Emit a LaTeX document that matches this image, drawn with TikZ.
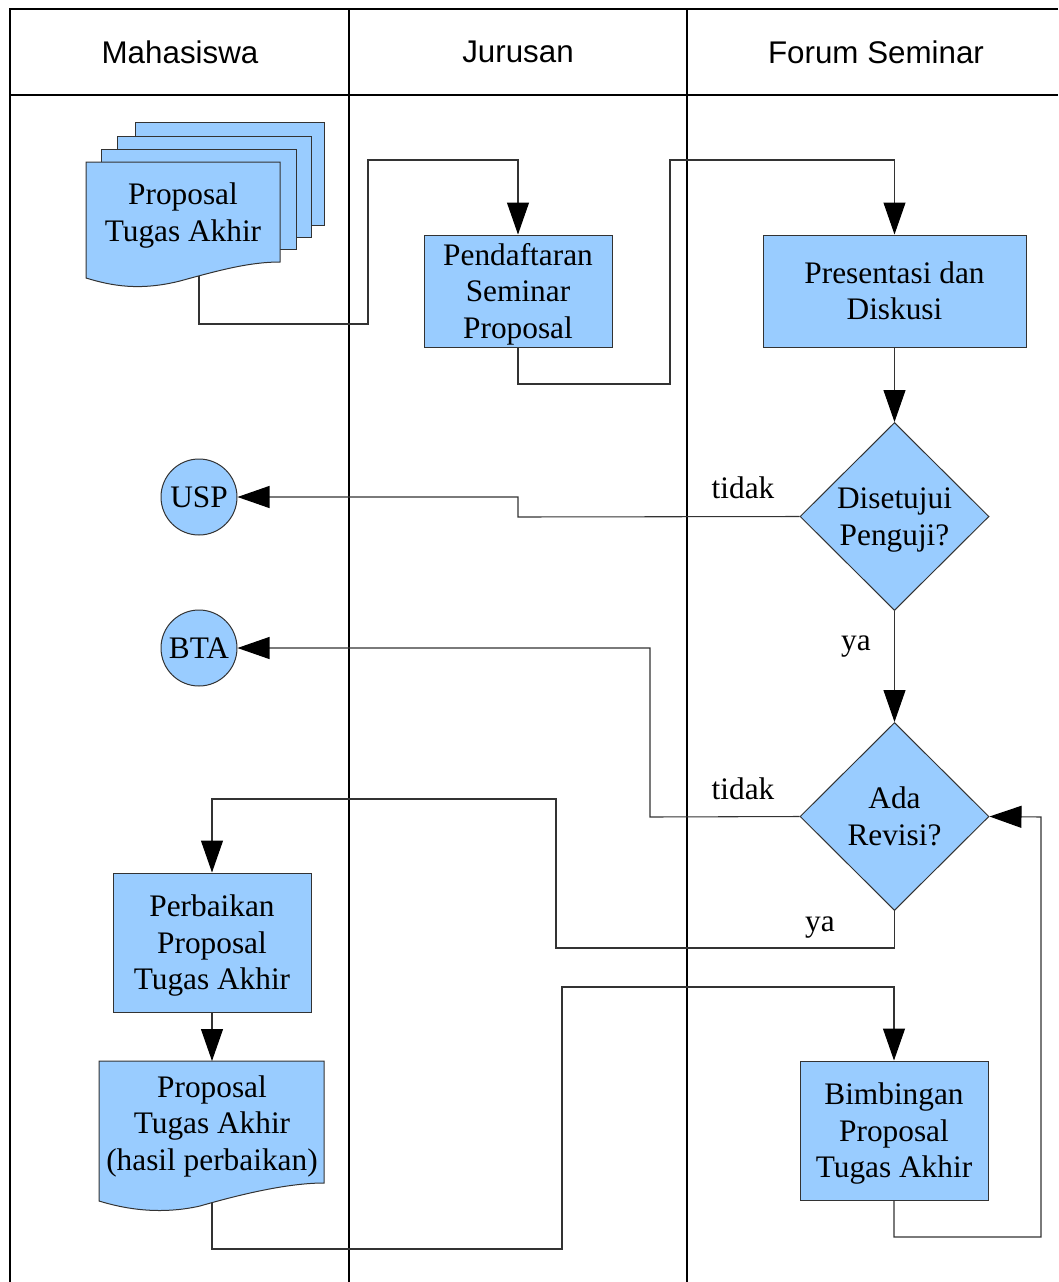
\documentclass[tikz,border=0pt]{standalone}
\usepackage{fontspec}
\setmainfont{Liberation Serif}
\setsansfont{Liberation Sans}
\usetikzlibrary{arrows.meta,shapes.geometric}
\definecolor{fillblue}{HTML}{99CCFF}
\definecolor{edge}{HTML}{333333}
% uniform line strut so every text block is centred the same way
\newcommand{\lnst}{\rule[-5.5pt]{0pt}{27pt}}
\tikzset{
  lbl/.style={font=\fontsize{23.5}{27.4}\selectfont, align=center, inner sep=0pt},
  head/.style={font=\sffamily\fontsize{23.5}{27.4}\selectfont, inner sep=0pt},
  proc/.style={lbl, draw=edge, fill=fillblue, line width=0.75pt, rectangle},
  dec/.style={lbl, draw=edge, fill=fillblue, line width=0.75pt, diamond,
    aspect=1, minimum width=141.75pt, minimum height=141pt},
  term/.style={lbl, draw=edge, fill=fillblue, line width=0.75pt, circle, minimum size=57pt},
  conn/.style={draw=edge, line width=0.8pt},
  arr/.style={conn, -{Triangle[length=24pt,width=16.5pt,color=black]}},
  frame/.style={draw=black, line width=1pt},
  docshape/.style={draw=edge, fill=fillblue, line width=0.75pt},
}
\begin{document}
\begin{tikzpicture}[x=0.75pt, y=-0.75pt]
\useasboundingbox (0,0) rectangle (1058,1282);

% swimlane frame
\draw[frame] (1058,9) -- (10,9) -- (10,1282);
\draw[frame] (10,95) -- (1058,95);
\draw[frame] (349,9) -- (349,1282);
\draw[frame] (687,9) -- (687,1282);
\node[head] (hMhs) at (180,52) {Mahasiswa};
\node[head] (hJur) at (518,52) {Jurusan};
\node[head] (hFor) at (876,52) {Forum Seminar};

% stacked proposal documents
\draw[docshape] (135,122) rectangle (324,225);
\draw[docshape] (117,136) rectangle (311,237);
\draw[docshape] (101,149) rectangle (296,249);
\draw[docshape] (86,162) -- (280,162) -- (280,262)
  .. controls (250,262) and (220,270) .. (180,281)
  .. controls (140,291) and (112,286) .. (86,278) -- cycle;
\node[lbl] (docA) at (183,212.5) {\lnst Proposal\\\lnst Tugas Akhir};
\coordinate (docAout) at (199,276);

% revised proposal document
\draw[docshape] (99,1061) -- (324,1061) -- (324,1183)
  .. controls (290,1183) and (245,1193) .. (200,1206)
  .. controls (160,1215) and (125,1209) .. (99,1201) -- cycle;
\node[lbl] (docB) at (212,1123) {\lnst Proposal\\\lnst Tugas Akhir\\\lnst (hasil perbaikan)};
\coordinate (docBin) at (212,1061);
\coordinate (docBout) at (212,1203);

% process steps
\node[proc, minimum width=141pt, minimum height=84pt] (pend) at (518,291)
  {\lnst Pendaftaran\\\lnst Seminar\\\lnst Proposal};
\node[proc, minimum width=197.25pt, minimum height=84pt] (pres) at (894.5,291)
  {\lnst Presentasi dan\\\lnst Diskusi};
\node[dec] (setuju) at (894.5,516.5) {\lnst Disetujui\\\lnst Penguji?};
\node[dec] (revisi) at (894.5,816.5) {\lnst Ada\\\lnst Revisi?};
\node[proc, minimum width=148.5pt, minimum height=104.25pt] (perb) at (212,942.5)
  {\lnst Perbaikan\\\lnst Proposal\\\lnst Tugas Akhir};
\node[proc, minimum width=141pt, minimum height=104.25pt] (bimb) at (894,1130.5)
  {\lnst Bimbingan\\\lnst Proposal\\\lnst Tugas Akhir};
\node[term] (usp) at (199,497) {\lnst USP};
\node[term] (bta) at (199,648) {\lnst BTA};

% branch labels
\node[lbl] (t1) at (743,488) {\lnst tidak};
\node[lbl] (y1) at (856,640) {\lnst ya};
\node[lbl] (t2) at (743,789) {\lnst tidak};
\node[lbl] (y2) at (820,921) {\lnst ya};

% connectors
\draw[arr] (docAout) -- (199,324) -- (368,324) -- (368,160) -| (pend.north);
\draw[arr] (pend.south) -- (518,384) -- (670,384) -- (670,160) -| (pres.north);
\draw[arr] (pres.south) -- (setuju.north);
\draw[arr] (setuju.west) -- (518,517) -- (518,497) -- (usp.east);
\draw[arr] (setuju.south) -- (revisi.north);
\draw[arr] (revisi.west) -- (650,817) -- (650,648) -- (bta.east);
\draw[arr] (revisi.south) -- (894.5,948) -- (556,948) -- (556,799) -| (perb.north);
\draw[arr] (perb.south) -- (docBin);
\draw[arr] (docBout) -- (212,1249) -- (562,1249) -- (562,987) -| (bimb.north);
\draw[arr] (bimb.south) -- (894,1237) -- (1041,1237) -- (1041,817) -- (revisi.east);
\end{tikzpicture}
\end{document}
